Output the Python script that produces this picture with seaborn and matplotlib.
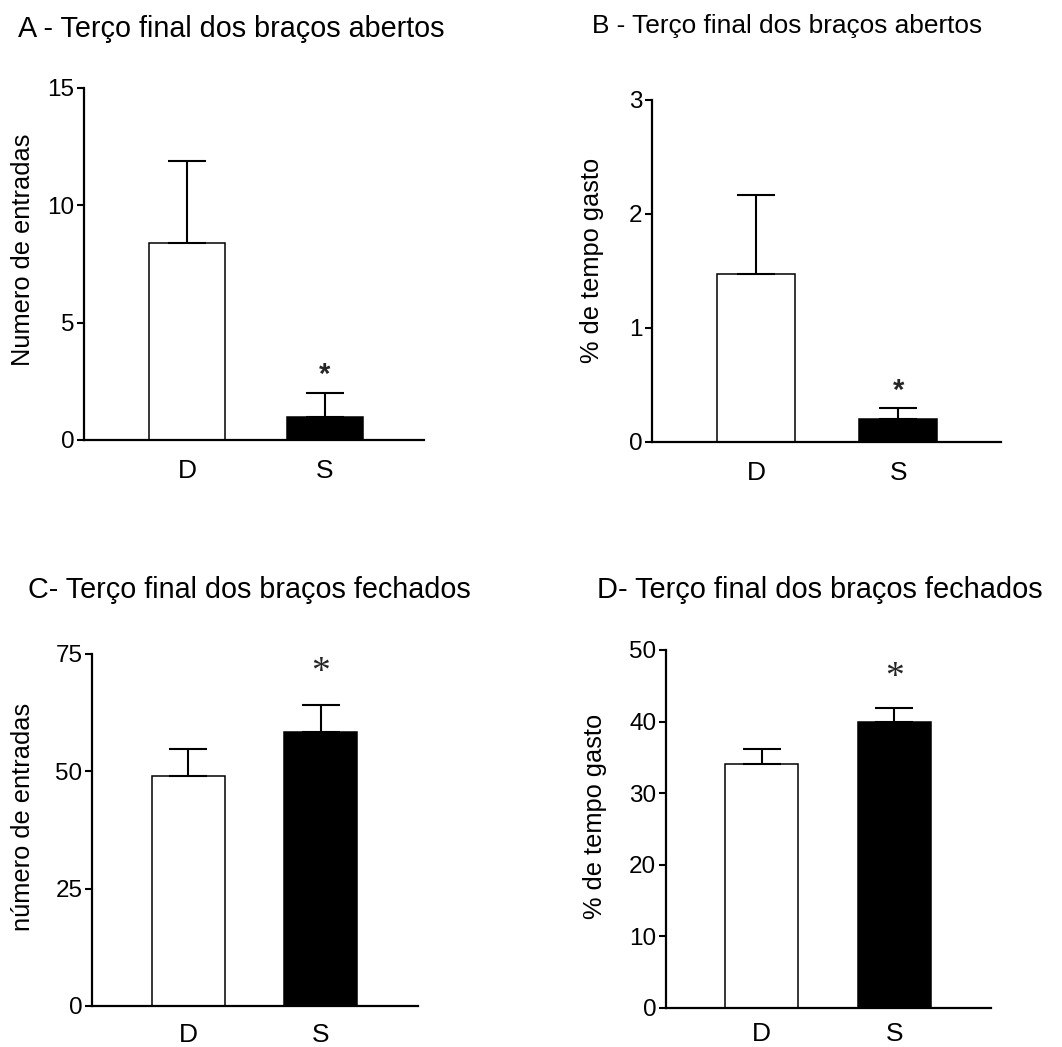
import matplotlib
matplotlib.use("Agg")
import matplotlib.pyplot as plt
import seaborn as sns

# Groups and values (mean, upper error) for the four panels
groups = ["D", "S"]

entries_open = [8.4, 1.0]
entries_open_err = [3.5, 1.0]

time_open = [1.47, 0.20]
time_open_err = [0.70, 0.10]

entries_closed = [48.9, 58.4]
entries_closed_err = [5.9, 5.8]

time_closed = [34.1, 40.0]
time_closed_err = [2.1, 1.9]

titles = [
    "A - Terço final dos braços abertos",
    "B - Terço final dos braços abertos",
    "C- Terço final dos braços fechados",
    "D- Terço final dos braços fechados",
]
ylabels = ["Numero de entradas", "% de tempo gasto",
           "número de entradas", "% de tempo gasto"]
yticks = [[0, 5, 10, 15], [0, 1, 2, 3], [0, 25, 50, 75], [0, 10, 20, 30, 40, 50]]

sns.set_style("ticks")
plt.rcParams["font.family"] = ["Liberation Sans", "DejaVu Sans"]

W, H = 1062, 1047
fig = plt.figure(figsize=(W / 100, H / 100), dpi=100)


def px_axes(left, top, right, bottom):
    return fig.add_axes([left / W, 1 - bottom / H, (right - left) / W, (bottom - top) / H])


panels = [
    dict(box=(84, 88, 424, 440), xlim=(-0.746, 1.717), means=entries_open,
         errs=entries_open_err, star="sans", star_off=18, xpad=14,
         title_xy=(18, 29), title_fs=20.7, ylab_xy=(23, 250)),
    dict(box=(652, 100, 1001, 442), xlim=(-0.732, 1.723), means=time_open,
         errs=time_open_err, star="sans", star_off=17, xpad=14,
         title_xy=(592, 26), title_fs=18.9, ylab_xy=(592, 260)),
    dict(box=(92, 654, 418, 1006), xlim=(-0.73, 1.737), means=entries_closed,
         errs=entries_closed_err, star="serif", star_off=32, xpad=12,
         title_xy=(28, 590), title_fs=20.7, ylab_xy=(23, 817)),
    dict(box=(666, 650, 991, 1008), xlim=(-0.72, 1.73), means=time_closed,
         errs=time_closed_err, star="serif", star_off=30, xpad=10,
         title_xy=(597, 590), title_fs=20.9, ylab_xy=(595, 816)),
]

palette = {"D": "white", "S": "black"}

for i, p in enumerate(panels):
    ax = px_axes(*p["box"])
    sns.barplot(x=groups, y=p["means"], hue=groups, palette=palette, legend=False,
                width=0.55, edgecolor="black", linewidth=1.1, ax=ax, zorder=2)
    ax.errorbar(x=[0, 1], y=p["means"], yerr=[[0, 0], p["errs"]], fmt="none",
                ecolor="black", elinewidth=1.5, capsize=14, capthick=1.5, zorder=3)

    ax.set_xlim(*p["xlim"])
    ax.set_ylim(0, yticks[i][-1])
    ax.set_yticks(yticks[i])
    ax.set_yticklabels([str(t) for t in yticks[i]])
    ax.set_xlabel("")
    ax.set_ylabel("")
    for side in ("top", "right"):
        ax.spines[side].set_visible(False)
    for side in ("left", "bottom"):
        ax.spines[side].set_linewidth(1.6)
        ax.spines[side].set_color("black")
    ax.tick_params(axis="y", direction="out", length=5, width=1.5, pad=2,
                   labelsize=17.5, colors="black")
    ax.tick_params(axis="x", length=0, pad=p["xpad"], labelsize=19, colors="black")

    # significance mark above the S bar
    top = p["means"][1] + p["errs"][1]
    if p["star"] == "sans":
        ax.annotate("*", xy=(1, top), xytext=(0, p["star_off"]),
                    textcoords="offset pixels", ha="center", va="center",
                    fontsize=21, fontweight="bold", family="Liberation Sans")
    else:
        ax.annotate("*", xy=(1, top), xytext=(0, p["star_off"]),
                    textcoords="offset pixels", ha="center", va="center",
                    fontsize=27, family="Liberation Serif")

    tx, ty = p["title_xy"]
    fig.text(tx / W, 1 - ty / H, titles[i], ha="left", va="center",
             fontsize=p["title_fs"], color="black")
    lx, ly = p["ylab_xy"]
    fig.text(lx / W, 1 - ly / H, ylabels[i], rotation=90, ha="center",
             va="center", fontsize=18.3, color="black")

fig.savefig("out.png", dpi=100, facecolor="white")
